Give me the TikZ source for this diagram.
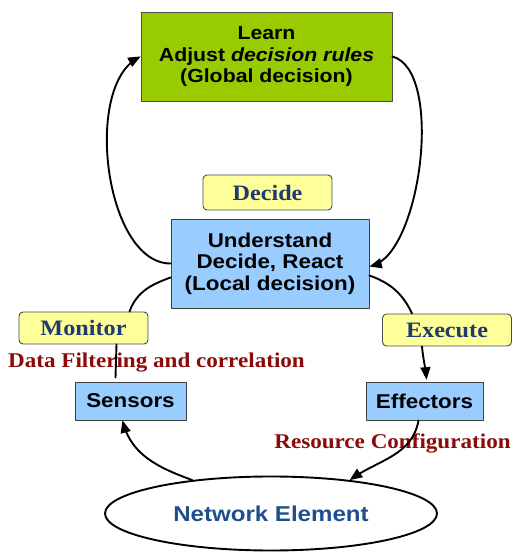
\documentclass[tikz,border=0pt]{standalone}
\usepackage{fontspec}
\usetikzlibrary{arrows,shapes.geometric}
\newfontfamily\boxfont[FakeStretch=1.12]{Liberation Sans}
\newfontfamily\labfont[FakeStretch=1.1]{Liberation Serif}
\definecolor{learngreen}{HTML}{99CC00}
\definecolor{boxblue}{HTML}{99CCFF}
\definecolor{labyellow}{HTML}{FFFF99}
\definecolor{labnavy}{HTML}{1F3A6E}
\definecolor{notered}{HTML}{8B0A0A}
\definecolor{neblue}{HTML}{1F4E8C}
\tikzset{
  learnbox/.style={draw=black!70,line width=0.8pt,fill=learngreen,inner sep=0pt,
    minimum width=251pt,minimum height=89pt,align=center,
    font=\boxfont\bfseries\fontsize{19}{21.5}\selectfont},
  bluebox/.style={draw=black!75,line width=0.9pt,fill=boxblue,inner sep=0pt,align=center,
    font=\boxfont\bfseries\fontsize{20}{21.5}\selectfont},
  phase/.style={draw=black!70,line width=0.9pt,fill=labyellow,rounded corners=4pt,
    inner sep=0pt,minimum width=129pt,minimum height=32pt,text=labnavy,
    font=\labfont\bfseries\fontsize{22}{24}\selectfont},
  note/.style={text=notered,inner sep=0pt,font=\labfont\bfseries\fontsize{21}{23}\selectfont},
  flow/.style={line width=1.9pt}
}

\begin{document}
\begin{tikzpicture}[x=1pt,y=1pt,line cap=round,line join=round,>=triangle 45]
\useasboundingbox (0,0) rectangle (512,552);

% boxes
\node[learnbox] (learn) at (266.5,495.5) {Learn\\Adjust \textit{decision rules}\\(Global decision)};
\node[phase,minimum height=35pt] (decide) at (267.5,359.5) {Decide};
\node[bluebox,minimum width=198pt,minimum height=89pt] (und) at (270,288.5) {Understand\\Decide, React\\(Local decision)};
\node[phase] (mon) at (83.5,224) {Monitor};
\node[phase] (exe) at (447,222) {Execute};
\node[note] (dfnote) at (156.5,189) {Data Filtering and correlation};
\node[bluebox,minimum width=111pt,minimum height=38pt] (sen) at (130.5,151) {Sensors};
\node[bluebox,minimum width=117pt,minimum height=38pt] (eff) at (424.5,151) {Effectors};
\node[note] (rcnote) at (392.5,109) {Resource Configuration};
\node[draw,ellipse,line width=1.9pt,minimum width=332pt,minimum height=74pt,inner sep=0pt,
  text=neblue,font=\boxfont\bfseries\fontsize{21.5}{23}\selectfont] (ne) at (271,38.5) {Network Element};

% loop
\draw[flow,->] (und.west) to[out=180,in=208,looseness=0.8] (learn.west);
\draw[flow,->] (learn.east) to[out=-15,in=15,looseness=0.65] ([yshift=-3pt]und.east);
\draw[flow] ([yshift=-14pt]und.west) to[out=200,in=70] ([xshift=46pt]mon.north);
\draw[flow] ([xshift=33pt]mon.south) -- ([xshift=-15pt,yshift=4pt]sen.north);
\draw[flow] ([yshift=-12pt]und.east) to[out=-20,in=115] ([xshift=-35pt]exe.north);
\draw[flow,->] ([xshift=-25pt]exe.south) to[out=-85,in=95] ([xshift=2pt,yshift=2pt]eff.north);
\draw[flow,->] (ne.157) to[out=160,in=-75] ([xshift=-8pt]sen.south);
\draw[flow,->] ([xshift=-6pt]eff.south) to[out=-100,in=35] (ne.23);
\end{tikzpicture}
\end{document}
